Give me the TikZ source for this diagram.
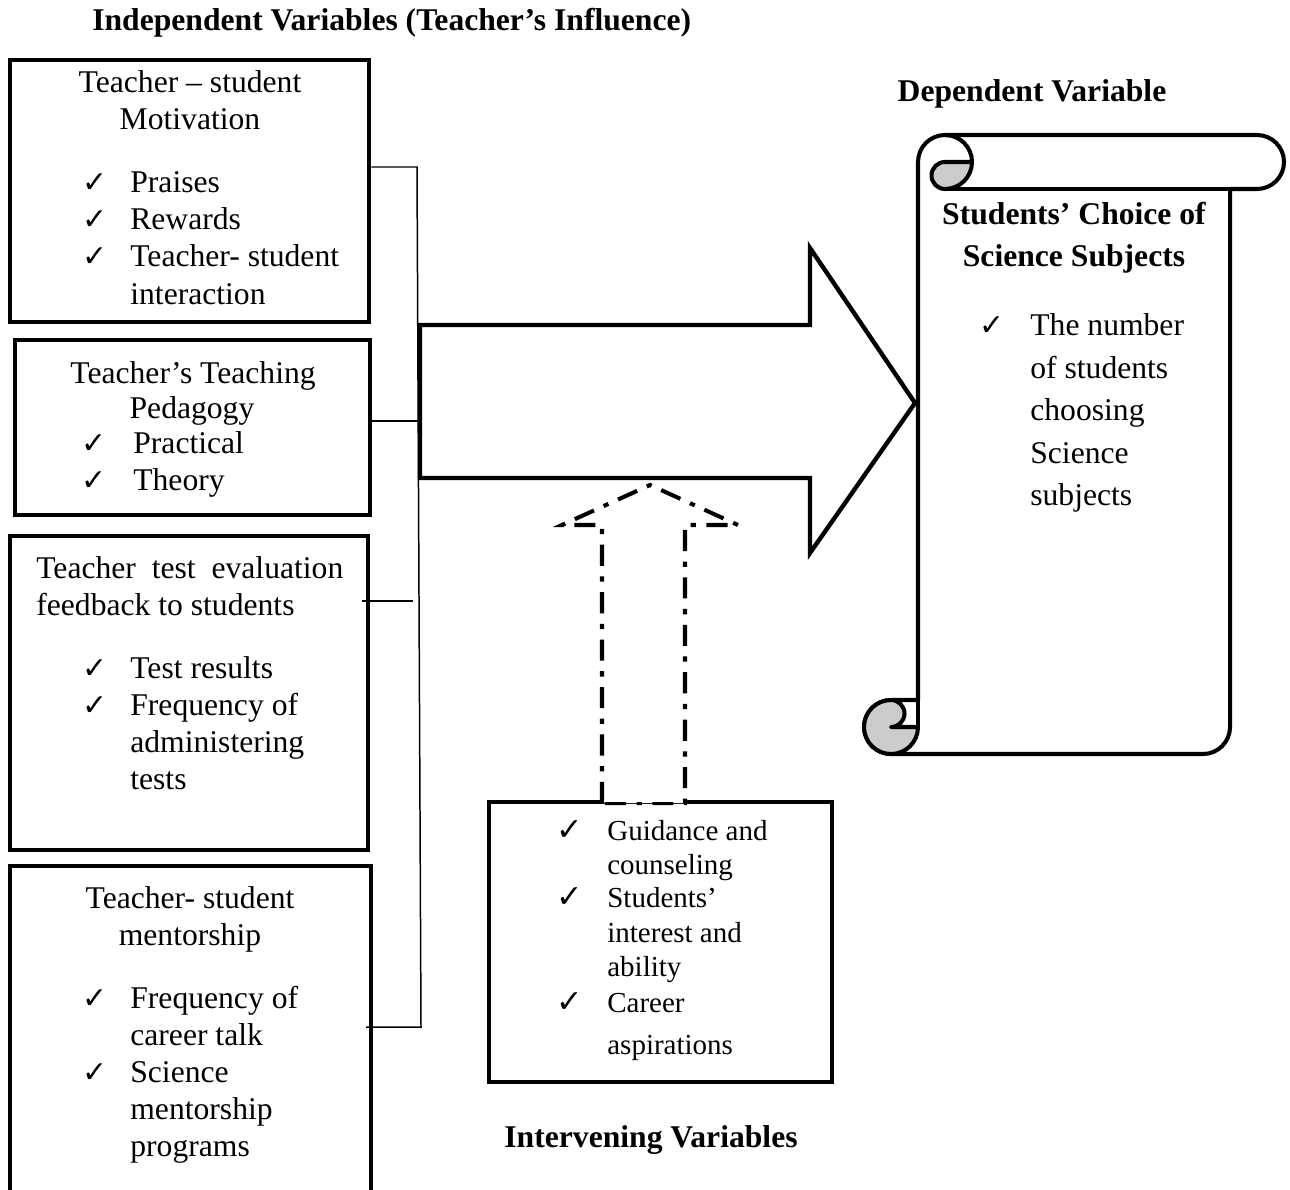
\documentclass[tikz,border=0pt]{standalone}
\usepackage{fontspec}
\setmainfont{Liberation Serif}
\newfontfamily\symfont{DejaVu Sans}
\usetikzlibrary{fit}
\definecolor{rollgray}{RGB}{204,204,204}
\tikzset{
  vbox/.style={draw, line width=2.8pt, inner sep=0pt},
  item/.style={anchor=base west, inner sep=0pt},
  ctext/.style={anchor=base, inner sep=0pt},
  chk/.style={anchor=base, inner sep=0pt, font=\symfont\fontsize{17}{17}\selectfont},
  head/.style={anchor=base, inner sep=0pt, font=\fontsize{18}{21}\selectfont\bfseries},
  bracket/.style={line width=0.85pt},
  scrollline/.style={line width=2.3pt, line join=round, line cap=round}
}
\begin{document}
\begin{tikzpicture}[x=0.02cm, y=-0.02cm, font=\fontsize{18}{21}\selectfont]
    % Page frame
    \fill[white] (0,0) rectangle (1290,1189);
    \useasboundingbox (0,0) rectangle (1290,1189);

    % Define the corners of the four teacher boxes
    \coordinate (M1) at (10,60);   \coordinate (M2) at (369,322);
    \coordinate (P1) at (15,340);  \coordinate (P2) at (370,515);
    \coordinate (F1) at (10,536);  \coordinate (F2) at (368,850);
    \coordinate (T1) at (10,866);  \coordinate (T2) at (371,1210);

    % Draw the teacher boxes
    \node[vbox, fit=(M1)(M2)] (motiv) {};
    \node[vbox, fit=(P1)(P2)] (pedag) {};
    \node[vbox, fit=(F1)(F2)] (feedb) {};
    \node[vbox, fit=(T1)(T2)] (mentor) {};

    % Headings
    \node[head, anchor=base west] (indep) at (92,31) {Independent Variables (Teacher’s Influence)};
    \node[head] (dep) at (1032,102) {Dependent Variable};
    \node[head] (interv) at (651,1147) {Intervening Variables};

    % Box 1: motivation
    \node[ctext] (m0a) at (190,93) {Teacher -- student};
    \node[ctext] (m0b) at (190,130) {Motivation};
    \node[chk] (m1c) at (95,193) {✓};
    \node[item] (m1) at (130,193) {Praises};
    \node[chk] (m2c) at (95,230) {✓};
    \node[item] (m2) at (130,230) {Rewards};
    \node[chk] (m3c) at (95,267) {✓};
    \node[item] (m3) at (130,267) {Teacher- student};
    \node[item] (m3b) at (130,304) {interaction};

    % Box 2: pedagogy
    \node[ctext] (p0a) at (193,383) {Teacher’s Teaching};
    \node[ctext] (p0b) at (192,418) {Pedagogy};
    \node[chk] (p1c) at (94,453) {✓};
    \node[item] (p1) at (133,453) {Practical};
    \node[chk] (p2c) at (94,490) {✓};
    \node[item] (p2) at (133,490) {Theory};

    % Box 3: test feedback
    \node[item] (f0a) at (36,578) {\makebox[6.14cm][s]{Teacher test evaluation}};
    \node[item] (f0b) at (36,615) {feedback to students};
    \node[chk] (f1c) at (95,678) {✓};
    \node[item] (f1) at (130,678) {Test results};
    \node[chk] (f2c) at (95,715) {✓};
    \node[item] (f2) at (130,715) {Frequency of};
    \node[item] (f2b) at (130,752) {administering};
    \node[item] (f2d) at (130,789) {tests};

    % Box 4: mentorship
    \node[ctext] (t0a) at (190,908) {Teacher- student};
    \node[ctext] (t0b) at (190,945) {mentorship};
    \node[chk] (t1c) at (95,1008) {✓};
    \node[item] (t1) at (130,1008) {Frequency of};
    \node[item] (t1b) at (130,1045) {career talk};
    \node[chk] (t2c) at (95,1082) {✓};
    \node[item] (t2) at (130,1082) {Science};
    \node[item] (t2b) at (130,1119) {mentorship};
    \node[item] (t2d) at (130,1156) {programs};

    % Bracket joining the boxes
    \coordinate (jtop) at (417,167);
    \coordinate (jbot) at (421,1027);
    \draw[bracket] (motiv.east |- jtop) -- (jtop) -- (jbot) -- (366,1027);
    \draw[bracket] (pedag.east |- 0,421) -- (419,421);
    \draw[bracket] (362,601) -- (413,601);

    % Big arrow to the dependent variable
    \draw[line width=2.5pt, line join=miter] (420,325) -- (810,325) -- (810,248) -- (915,403)
        -- (810,553) -- (810,478) -- (420,478) -- cycle;

    % Intervening box
    \coordinate (I1) at (489,802); \coordinate (I2) at (832,1082);
    \node[vbox, line width=2.4pt, fit=(I1)(I2)] (intbox) {};
    \begin{scope}[font=\fontsize{16.5}{19}\selectfont]
    \node[chk, font=\symfont\fontsize{18}{18}\selectfont] (i1c) at (570,840) {✓};
    \node[item] (i1) at (607,840) {Guidance and};
    \node[item] (i1b) at (607,874) {counseling};
    \node[chk, font=\symfont\fontsize{18}{18}\selectfont] (i2c) at (570,907) {✓};
    \node[item] (i2) at (607,907) {Students’};
    \node[item] (i2b) at (607,942) {interest and};
    \node[item] (i2d) at (607,976) {ability};
    \node[chk, font=\symfont\fontsize{18}{18}\selectfont] (i3c) at (570,1012) {✓};
    \node[item] (i3) at (607,1012) {Career};
    \node[item] (i3b) at (607,1054) {aspirations};
    \end{scope}

    % Dash-dotted arrow from the intervening box
    \filldraw[fill=white, line width=2.3pt, dash pattern=on 12pt off 6pt on 3pt off 6pt]
        (602,803) -- (602,525) -- (562,525) -- (650,485) -- (738,525) -- (685,525) -- (685,803) -- cycle;
    \draw[white, line width=1.2pt] (604,801) -- (683,801);

    % Scroll for the dependent variable: outline
    \draw[scrollline, fill=white] (918,700) -- (918,162) arc[start angle=180, end angle=270, radius=27]
        -- (1257,135) arc[start angle=270, end angle=450, radius=27] -- (1230,189) -- (1230,727)
        arc[start angle=0, end angle=90, radius=27] -- (891,754)
        arc[start angle=90, end angle=270, radius=27] -- cycle;
    % top roll
    \filldraw[scrollline, fill=rollgray] (945,162) -- (972,162) arc[start angle=0, end angle=90, radius=27]
        arc[start angle=90, end angle=270, radius=13.5] -- cycle;
    \draw[scrollline] (945,135) arc[start angle=270, end angle=360, radius=27];
    \draw[scrollline] (945,189) -- (1230,189);
    % bottom roll
    \filldraw[scrollline, fill=rollgray] (891,700) arc[start angle=270, end angle=0, radius=27]
        -- (891,727) arc[start angle=90, end angle=-90, radius=13.5] -- cycle;
    \draw[scrollline] (891,700) -- (918,700) -- (918,727);

    % Scroll text
    \node[head] (s0a) at (1074,225) {Students’ Choice of};
    \node[head] (s0b) at (1074,267) {Science Subjects};
    \node[chk] (s1c) at (992,336) {✓};
    \node[item] (s1) at (1030,336) {The number};
    \node[item] (s1b) at (1030,378) {of students};
    \node[item] (s1d) at (1030,420) {choosing};
    \node[item] (s1e) at (1030,463) {Science};
    \node[item] (s1f) at (1030,505) {subjects};
\end{tikzpicture}
\end{document}
